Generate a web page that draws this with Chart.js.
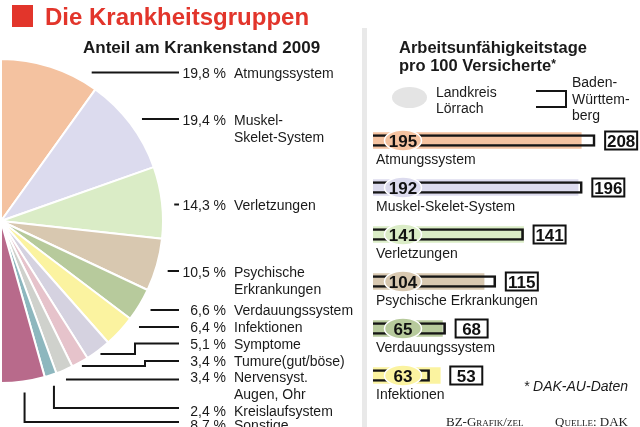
<!DOCTYPE html>
<html>
<head>
<meta charset="utf-8">
<script src="https://cdn.jsdelivr.net/npm/chart.js@4/dist/chart.umd.min.js"></script>
<style>
html,body{margin:0;padding:0;background:#fff;}
#wrap{position:relative;width:640px;height:427px;overflow:hidden;background:#fff;font-family:"Liberation Sans",Arial,sans-serif;color:#1a1a1a;}
.abs{position:absolute;white-space:nowrap;}
canvas{position:absolute;}
</style>
</head>
<body>
<div id="wrap">
  <div class="abs" style="left:362px;top:28px;width:5px;height:399px;background:#e9e9e9"></div>
  <canvas id="pie" width="360" height="427" style="left:0;top:0;width:360px;height:427px"></canvas>
  <canvas id="bars" width="274" height="427" style="left:366px;top:0;width:274px;height:427px"></canvas>

  <div class="abs" style="left:12px;top:5px;width:21px;height:22px;background:#e2352b"></div>
  <div class="abs" style="left:45px;top:3px;font:bold 24px/28px 'Liberation Sans',Arial,sans-serif;color:#e2352b">Die Krankheitsgruppen</div>
  <div class="abs" style="left:83px;top:38px;font:bold 17px/20px 'Liberation Sans',Arial,sans-serif;color:#1a1a1a">Anteil am Krankenstand 2009</div>

  <div class="abs" style="left:399px;top:39px;font:bold 16.5px/17px 'Liberation Sans',Arial,sans-serif;color:#1a1a1a">Arbeitsunfähigkeitstage<br>pro 100 Versicherte<span style="font-size:12px;vertical-align:3px">*</span></div>

  <div class="abs" style="left:392px;top:87px;width:35px;height:21px;border-radius:50%;background:#e4e4e4"></div>
  <div class="abs" style="left:436px;top:84px;font:14px/16px 'Liberation Sans',Arial,sans-serif;color:#1a1a1a">Landkreis<br>Lörrach</div>
  <div class="abs" style="left:536px;top:90px;width:29px;height:14px;border:2px solid #151515;border-left:none"></div>
  <div class="abs" style="left:572px;top:74px;font:14px/16.5px 'Liberation Sans',Arial,sans-serif;color:#1a1a1a">Baden-<br>Württem-<br>berg</div>

  <div class="abs" style="right:12px;top:378px;font:italic 14px/17px 'Liberation Sans',Arial,sans-serif;color:#1a1a1a">* DAK-AU-Daten</div>
  <div class="abs" style="left:446px;top:413px;font:13px/18px 'Liberation Serif','Times New Roman',serif;font-variant:small-caps;color:#222">BZ-Grafik/zel</div>
  <div class="abs" style="left:555px;top:413px;font:13px/18px 'Liberation Serif','Times New Roman',serif;font-variant:small-caps;color:#222">Quelle: DAK</div>
</div>

<script>
// ---------- Data ----------
const pieCategories = [
  "Atmungssystem", ["Muskel-", "Skelet-System"], "Verletzungen",
  ["Psychische", "Erkrankungen"], "Verdauungssystem", "Infektionen",
  "Symptome", "Tumure(gut/böse)", ["Nervensyst.", "Augen, Ohr"],
  "Kreislaufsystem", "Sonstige"
];
const pieValues = [19.8, 19.4, 14.3, 10.5, 6.6, 6.4, 5.1, 3.4, 3.4, 2.4, 8.7];

const barCategories = ["Atmungssystem", "Muskel-Skelet-System", "Verletzungen",
  "Psychische Erkrankungen", "Verdauungssystem", "Infektionen"];
const lkValues = [195, 192, 141, 104, 65, 63];   // Landkreis Lörrach
const bwValues = [208, 196, 141, 115, 68, 53];   // Baden-Württemberg

// ---------- Styles ----------
const pieColors = ["#f4c2a0", "#dcdbee", "#daecc6", "#d8c8b0", "#b7ca9c", "#fbf3a0",
  "#d5d2e0", "#e6c3cb", "#cfd1cc", "#8db7be", "#b86a8b"];
const barColors = pieColors.slice(0, 6);
const FONT = '"Liberation Sans", Arial, sans-serif';
const INK = '#1a1a1a';

// label layout for the pie (baseline of text, y of leader line, leader style)
const PIE_LAYOUT = [
  {base: 77.5, line: 72.5, type: 'h'},
  {base: 125, line: 119, type: 'h'},
  {base: 210, line: 204.5, type: 'h'},
  {base: 277, line: 271, type: 'h'},
  {base: 315, line: 310, type: 'h'},
  {base: 332, line: 327, type: 'h'},
  {base: 348.5, line: 343.5, type: 'elbow', bend: 135},
  {base: 365.5, line: 361, type: 'elbow', bend: 145},
  {base: 382, line: 379.5, type: 'a'},
  {base: 416, line: 408, type: 'down'},
  {base: 430, line: 422, type: 'down'}
];
const LINE_END = 179, PCT_RIGHT = 226, NAME_LEFT = 234, LINE2 = 17;

const pieLabelPlugin = {
  id: 'pieLabels',
  afterDatasetsDraw(chart) {
    const ctx = chart.ctx;
    const meta = chart.getDatasetMeta(0);
    ctx.save();
    ctx.strokeStyle = '#151515';
    ctx.lineWidth = 2;
    ctx.lineCap = 'butt';
    ctx.lineJoin = 'miter';
    meta.data.forEach((arc, i) => {
      const p = arc.getProps(['x', 'y', 'startAngle', 'endAngle', 'outerRadius'], true);
      const mid = (p.startAngle + p.endAngle) / 2;
      const R = p.outerRadius;
      const L = PIE_LAYOUT[i];
      const ly = L.line;
      ctx.beginPath();
      if (L.type === 'h') {
        const r = R + 12, dy = ly - p.y;
        const sx = p.x + Math.sqrt(Math.max(r * r - dy * dy, 0));
        ctx.moveTo(sx, ly); ctx.lineTo(LINE_END, ly);
      } else if (L.type === 'elbow') {
        const r = R + 4;
        const ax = p.x + Math.cos(mid) * r, ay = p.y + Math.sin(mid) * r;
        ctx.moveTo(ax, ay); ctx.lineTo(L.bend, ay); ctx.lineTo(L.bend, ly); ctx.lineTo(LINE_END, ly);
      } else if (L.type === 'a') {
        const ax = p.x + Math.cos(mid) * (R + 4);
        ctx.moveTo(ax, ly); ctx.lineTo(LINE_END, ly);
      } else {
        const r = R + 11;
        const ax = p.x + Math.cos(mid) * r, ay = p.y + Math.sin(mid) * r;
        ctx.moveTo(ax, ay); ctx.lineTo(ax, ly); ctx.lineTo(LINE_END, ly);
      }
      ctx.stroke();

      ctx.fillStyle = INK;
      ctx.font = '14px ' + FONT;
      ctx.textBaseline = 'alphabetic';
      ctx.textAlign = 'right';
      const pct = pieValues[i].toFixed(1).replace('.', ',') + ' %';
      ctx.fillText(pct, PCT_RIGHT, L.base);
      ctx.textAlign = 'left';
      const name = pieCategories[i];
      const lines = Array.isArray(name) ? name : [name];
      lines.forEach((t, k) => ctx.fillText(t, NAME_LEFT, L.base + k * LINE2));
    });
    ctx.restore();
  }
};

new Chart(document.getElementById('pie'), {
  type: 'pie',
  data: {
    labels: pieCategories.map(c => Array.isArray(c) ? c.join(' ') : c),
    datasets: [{
      data: pieValues,
      backgroundColor: pieColors,
      borderColor: '#ffffff',
      borderWidth: 2
    }]
  },
  options: {
    responsive: false,
    animation: false,
    events: [],
    rotation: 0,
    circumference: 180,
    layout: {padding: {left: 0, top: 57, right: 196, bottom: 42}},
    plugins: {legend: {display: false}, tooltip: {enabled: false}}
  },
  plugins: [pieLabelPlugin]
});

// ---------- Bars ----------
const barDecorPlugin = {
  id: 'barDecor',
  afterDatasetsDraw(chart) {
    const ctx = chart.ctx;
    const xs = chart.scales.x;
    const bw = chart.getDatasetMeta(0);
    const lk = chart.getDatasetMeta(1);
    const x0 = xs.getPixelForValue(0);
    ctx.save();
    lk.data.forEach((bar, i) => {
      const y = bar.y;
      // pill with Landkreis value
      ctx.beginPath();
      ctx.ellipse(x0 + 30, y, 18.5, 10.5, 0, 0, Math.PI * 2);
      ctx.fillStyle = barColors[i];
      ctx.fill();
      ctx.lineWidth = 1.5;
      ctx.strokeStyle = '#ffffff';
      ctx.stroke();
      ctx.fillStyle = '#111';
      ctx.font = 'bold 17px ' + FONT;
      ctx.textAlign = 'center';
      ctx.textBaseline = 'alphabetic';
      ctx.fillText(String(lkValues[i]), x0 + 30, y + 6);
      // boxed Baden-Württemberg value
      const end = Math.max(bar.x, bw.data[i].x);
      const bx = end + 9;
      ctx.lineWidth = 2;
      ctx.strokeStyle = '#111';
      ctx.strokeRect(bx + 1, y - 9, 32, 18);
      ctx.fillText(String(bwValues[i]), bx + 17, y + 6);
      // category label
      ctx.font = '14px ' + FONT;
      ctx.fillStyle = INK;
      ctx.textAlign = 'left';
      ctx.fillText(barCategories[i], x0 + 3, y + 23.5);
    });
    ctx.restore();
  }
};

new Chart(document.getElementById('bars'), {
  type: 'bar',
  data: {
    labels: barCategories,
    datasets: [
      {
        label: 'Baden-Württemberg',
        data: bwValues,
        backgroundColor: 'rgba(0,0,0,0)',
        borderColor: '#151515',
        borderWidth: 2,
        borderSkipped: 'start',
        barThickness: 12,
        grouped: false
      },
      {
        label: 'Landkreis Lörrach',
        data: lkValues,
        backgroundColor: barColors,
        borderWidth: 0,
        barThickness: 16,
        grouped: false
      }
    ]
  },
  options: {
    indexAxis: 'y',
    responsive: false,
    animation: false,
    events: [],
    layout: {padding: {left: 7, right: 0, top: 117, bottom: 28}},
    scales: {
      x: {type: 'linear', min: 0, max: 250, display: false},
      y: {type: 'category', display: false}
    },
    plugins: {legend: {display: false}, tooltip: {enabled: false}}
  },
  plugins: [barDecorPlugin]
});
</script>
</body>
</html>
